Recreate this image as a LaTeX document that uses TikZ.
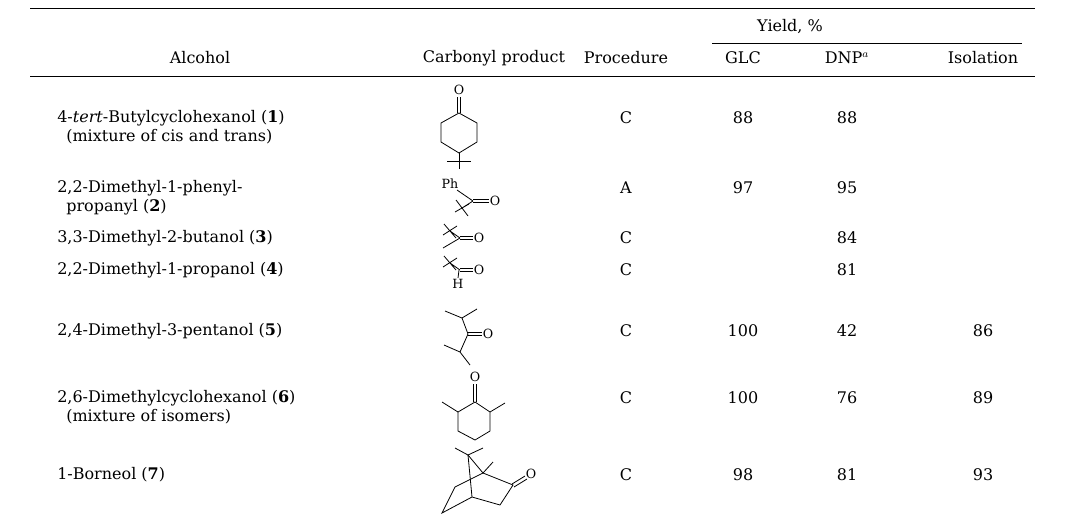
\documentclass[tikz,border=0pt]{standalone}
\usepackage{fontspec}
\setmainfont{DejaVu Serif}
\begin{document}
\begin{tikzpicture}[x=0.75pt,y=-0.75pt,
    txt/.style={font=\fontsize{12}{13}\selectfont, inner sep=0pt},
    lft/.style={txt, anchor=west},
    num/.style={txt},
    bond/.style={line width=0.6pt},
    atom/.style={font=\fontsize{9.5}{10}\selectfont, inner sep=0.5pt}
]
    \useasboundingbox (0,0) rectangle (1080,515);
    % Rules
    \draw[line width=0.6pt] (30,8) -- (1035,8);
    \draw[line width=0.6pt] (712,43) -- (1022,43);
    \draw[line width=0.6pt] (30,76) -- (1035,76);

    % Header
    \node[txt] (yield) at (790,27) {Yield, \%};
    \node[txt] (hAlc) at (200,58) {Alcohol};
    \node[txt] (hProd) at (494,58) {Carbonyl product};
    \node[txt] (hProc) at (626,58) {Procedure};
    \node[txt] (hGlc) at (743,58) {GLC};
    \node[txt] (hDnp) at (847,58) {DNP$^{a}$};
    \node[txt] (hIso) at (983,58) {Isolation};

    % Alcohols
    \node[lft] (a1) at (57,118) {4-\textit{tert}-Butylcyclohexanol (\textbf{1})};
    \node[lft] (a1b) at (66,137) {(mixture of cis and trans)};
    \node[lft] (a2) at (57,188) {2,2-Dimethyl-1-phenyl-};
    \node[lft] (a2b) at (66,207) {propanyl (\textbf{2})};
    \node[lft] (a3) at (57,238) {3,3-Dimethyl-2-butanol (\textbf{3})};
    \node[lft] (a4) at (57,270) {2,2-Dimethyl-1-propanol (\textbf{4})};
    \node[lft] (a5) at (57,331) {2,4-Dimethyl-3-pentanol (\textbf{5})};
    \node[lft] (a6) at (57,398) {2,6-Dimethylcyclohexanol (\textbf{6})};
    \node[lft] (a6b) at (66,417) {(mixture of isomers)};
    \node[lft] (a7) at (57,475) {1-Borneol (\textbf{7})};

    % Procedure and yields
    \node[num] (p1) at (626,118) {C};
    \node[num] (g1) at (743,118) {88};
    \node[num] (d1) at (847,118) {88};
    \node[num] (p2) at (626,188) {A};
    \node[num] (g2) at (743,188) {97};
    \node[num] (d2) at (847,188) {95};
    \node[num] (p3) at (626,238) {C};
    \node[num] (d3) at (847,238) {84};
    \node[num] (p4) at (626,270) {C};
    \node[num] (d4) at (847,270) {81};
    \node[num] (p5) at (626,331) {C};
    \node[num] (g5) at (743,331) {100};
    \node[num] (d5) at (847,331) {42};
    \node[num] (i5) at (983,331) {86};
    \node[num] (p6) at (626,398) {C};
    \node[num] (g6) at (743,398) {100};
    \node[num] (d6) at (847,398) {76};
    \node[num] (i6) at (983,398) {89};
    \node[num] (p7) at (626,475) {C};
    \node[num] (g7) at (743,475) {98};
    \node[num] (d7) at (847,475) {81};
    \node[num] (i7) at (983,475) {93};

    % Structure 1: 4-tert-butylcyclohexanone
    \node[atom] (o1) at (459,90) {O};
    \draw[bond] (457.5,113) -- (457.5,97) (460.5,113) -- (460.5,97);
    \draw[bond] (459,113) -- (477,123) -- (477,142) -- (459,153) -- (441,142) -- (441,123) -- cycle;
    \draw[bond] (459,153) -- (459,169) (447,161) -- (471,161);

    % Structure 2: phenyl tert-butyl ketone
    \node[atom] (ph2) at (450,184) {Ph};
    \node[atom] (o2) at (495,201) {O};
    \draw[bond] (457,190) -- (473,201);
    \draw[bond] (473,199.5) -- (489,199.5) (473,202.5) -- (489,202.5);
    \draw[bond] (473,201) -- (462,208) (456,200) -- (468,216) (455,212) -- (469,204);

    % Structure 3: pinacolone
    \node[atom] (o3) at (479,238) {O};
    \draw[bond] (460,236.5) -- (473,236.5) (460,239.5) -- (473,239.5);
    \draw[bond] (460,238) -- (450,231) (444,224) -- (456,238) (443,235) -- (457,226);
    \draw[bond] (460,238) -- (443,248);

    % Structure 4: pivalaldehyde
    \node[atom] (o4) at (479,270) {O};
    \node[atom] (h4) at (458,284) {H};
    \draw[bond] (460,268.5) -- (473,268.5) (460,271.5) -- (473,271.5);
    \draw[bond] (460,270) -- (450,263) (444,256) -- (456,270) (443,267) -- (457,258);
    \draw[bond] (459,270) -- (458,278);

    % Structure 5: diisopropyl ketone
    \node[atom] (o5) at (488,334) {O};
    \draw[bond] (468,332.5) -- (482,332.5) (468,335.5) -- (482,335.5);
    \draw[bond] (445,311) -- (462,318) -- (477,309);
    \draw[bond] (462,318) -- (468,334) -- (460,352);
    \draw[bond] (444,345) -- (460,352) -- (470,365);

    % Structure 6: 2,6-dimethylcyclohexanone
    \node[atom] (o6) at (475,377) {O};
    \draw[bond] (473.5,402) -- (473.5,384) (476.5,402) -- (476.5,384);
    \draw[bond] (475,402) -- (490,412) -- (490,431) -- (475,440) -- (458,431) -- (458,412) -- cycle;
    \draw[bond] (458,412) -- (442,402) (490,412) -- (505,403);

    % Structure 7: camphor
    \node[atom] (o7) at (531,474) {O};
    \draw[bond] (455,448) -- (468,455) -- (483,448);
    \draw[bond] (468,455) -- (483,473) -- (493,462);
    \draw[bond] (468,455) -- (472,497);
    \draw[bond] (483,473) -- (513,485) -- (500,505) -- (472,497);
    \draw[bond] (512,484) -- (525,476) (514,487) -- (527,479);
    \draw[bond] (472,497) -- (442,513) -- (455,487) -- (483,473);
\end{tikzpicture}
\end{document}
